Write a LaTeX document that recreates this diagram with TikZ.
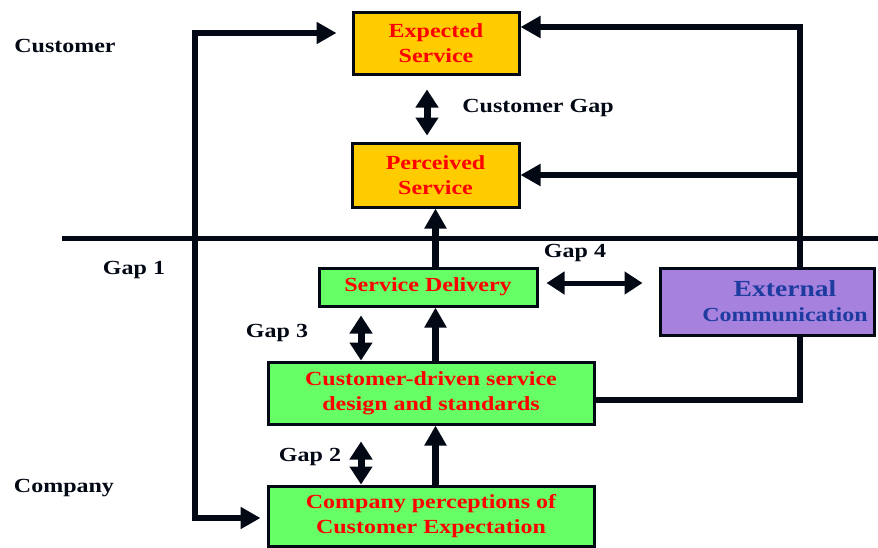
\documentclass[tikz,border=0pt]{standalone}
\usepackage{fontspec}
\setmainfont{Liberation Serif}[FakeStretch=1.2]
\usepackage{tikz}
\usetikzlibrary{arrows.meta}
\usepackage{xcolor}
\definecolor{boxorange}{HTML}{FFCC00}
\definecolor{boxgreen}{HTML}{66FF66}
\definecolor{boxpurple}{HTML}{A682DE}
\definecolor{textblue}{HTML}{1E3CA0}
\definecolor{linedark}{HTML}{020814}

\begin{document}
\begin{tikzpicture}[x=1pt,y=-1pt,
				font=\fontsize{20}{25}\selectfont\bfseries,
				box/.style={draw=linedark,line width=3pt,text=red,align=center,inner sep=0pt},
				conn/.style={draw=linedark,line width=6.5pt,line join=miter},
				fat/.tip={Triangle[width=21pt,length=20pt]},
				dtip/.tip={Triangle[width=22pt,length=18pt]},
				dbl/.style={draw=linedark,line width=7pt,dtip-dtip},
				lbl/.style={text=linedark}]
				\useasboundingbox (0,0) rectangle (878,547);
				% boxes
				\node[box,fill=boxorange,minimum width=166pt,minimum height=62pt] (expect) at (436,43) {Expected\\Service};
				\node[box,fill=boxorange,minimum width=167pt,minimum height=64pt] (perceive) at (435.5,175) {Perceived\\Service};
				\node[box,fill=boxgreen,minimum width=218pt,minimum height=38pt] (deliver) at (428,287) {Service Delivery};
				\node[box,fill=boxpurple,text=textblue,minimum width=214pt,minimum height=67pt] (extcomm) at (767,301.5) {\hspace*{36pt}{\fontsize{23}{27}\selectfont External}\\\hspace*{36pt}Communication};
				\node[box,fill=boxgreen,minimum width=326pt,minimum height=62pt] (design) at (431,393) {Customer-driven service\\design and standards};
				\node[box,fill=boxgreen,minimum width=326pt,minimum height=60pt] (compperc) at (431,516) {Company perceptions of\\Customer Expectation};
				% labels
				\node[lbl] (custlbl) at (65,46) {Customer};
				\node[lbl] (complbl) at (64,488) {Company};
				\node[lbl] (gapone) at (134,270) {Gap 1};
				\node[lbl] (custgap) at (538,108) {Customer Gap};
				\node[lbl] (gapfour) at (575,253) {Gap 4};
				\node[lbl] (gapthree) at (277,333) {Gap 3};
				\node[lbl] (gaptwo) at (310,457) {Gap 2};
				\coordinate (lcorner) at (195,33);
				\coordinate (lfoot) at (195,518);
				\coordinate (rcorner) at (800,27);
				\coordinate (gapx) at (361,0);
				\coordinate (cgapx) at (427,0);
				\coordinate (gfour) at (0,283);
				\draw[linedark,line width=5pt] (62,238) -- (878,238);
				\draw[conn,fat-fat,shorten <=15pt,shorten >=6pt] (expect.west |- lcorner) -- (lcorner) -- (lfoot) -- (compperc.west |- lfoot);
				\draw[conn,-fat] (extcomm.north -| rcorner) -- (rcorner) -- (expect.east |- rcorner);
				\draw[conn,-fat] (rcorner |- perceive.east) -- (perceive.east);
				\draw[conn] (extcomm.south -| rcorner) |- ([yshift=-7pt]design.east);
				% upward flow
				\draw[conn,-fat] (perceive.south |- deliver.north) -- (perceive.south);
				\draw[conn,-fat] (perceive.south |- design.north) -- (perceive.south |- deliver.south);
				\draw[conn,-fat] (perceive.south |- compperc.north) -- (perceive.south |- design.south);
				% gaps
				\draw[dbl,shorten <=14pt,shorten >=6pt] (expect.south -| cgapx) -- (perceive.north -| cgapx);
				\draw[dbl,shorten <=8pt] (deliver.south -| gapx) -- (design.north -| gapx);
				\draw[dbl,shorten <=16pt] (design.south -| gapx) -- (compperc.north -| gapx);
				\draw[dbl,line width=5pt,shorten <=8pt,shorten >=16pt] (deliver.east |- gfour) -- (extcomm.west |- gfour);
			\end{tikzpicture}
\end{document}
